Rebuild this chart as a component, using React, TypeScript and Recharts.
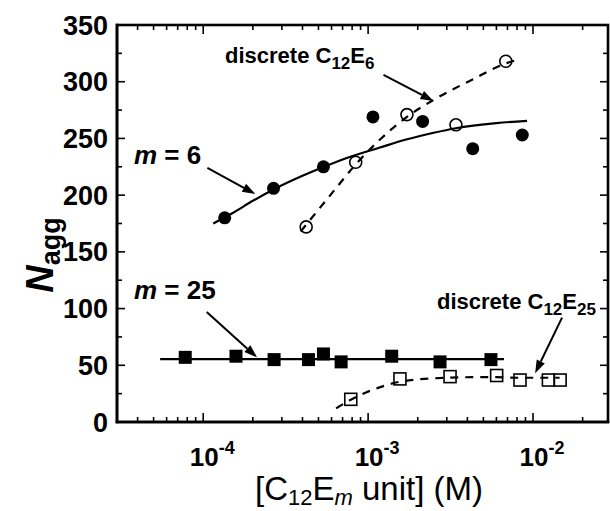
import React from 'react';
import { ComposedChart, XAxis, YAxis, Scatter, Line, ReferenceLine } from 'recharts';

// m = 6 (filled circles)
const m6Conc = [1.35e-4, 2.67e-4, 5.36e-4, 1.07e-3, 2.14e-3, 4.31e-3, 8.61e-3];
const m6Nagg = [180, 206, 225, 269, 265, 241, 253];
// discrete C12E6 (open circles)
const e6Conc = [4.21e-4, 8.41e-4, 1.72e-3, 3.41e-3, 6.84e-3];
const e6Nagg = [172, 229, 271, 262, 318];
// m = 25 (filled squares)
const m25Conc = [7.78e-5, 1.58e-4, 2.69e-4, 4.35e-4, 5.36e-4, 6.86e-4, 1.39e-3, 2.73e-3, 5.56e-3];
const m25Nagg = [57, 58, 55, 55, 60, 53, 58, 53, 55];
// discrete C12E25 (open squares)
const e25Conc = [7.85e-4, 1.56e-3, 3.14e-3, 6.02e-3, 8.34e-3, 1.24e-2, 1.46e-2];
const e25Nagg = [20, 38, 40, 41, 37, 37, 37];

// guide curves
const m6FitConc = [1.15e-4, 1.5e-4, 2e-4, 2.67e-4, 4e-4, 5.4e-4, 7.5e-4, 1.18e-3, 1.7e-3, 2.5e-3, 3.4e-3, 6e-3, 9.2e-3];
const m6FitNagg = [175, 184, 195, 205, 217, 225, 233, 242, 249, 255, 259, 263.5, 265.5];
const e6FitConc = [3.9e-4, 5.9e-4, 8.4e-4, 1.2e-3, 1.72e-3, 2.5e-3, 4.3e-3, 6.8e-3, 7.9e-3];
const e6FitNagg = [168, 200, 227, 250, 269, 284, 302, 316, 319];
const m25FitConc = [5.48e-5, 6.67e-3];
const m25FitNagg = [55.5, 55.5];
const e25FitConc = [6.4e-4, 7.7e-4, 9.7e-4, 1.2e-3, 1.56e-3, 2e-3, 3e-3, 4.5e-3, 6e-3, 8e-3, 1.05e-2, 1.45e-2];
const e25FitNagg = [12, 19, 26, 31, 35.5, 37.5, 39, 39.5, 39.5, 39, 39, 39];

// annotation arrows (data coords)
const arrows = [
  { x1: 1.06e-4, y1: 224, x2: 2.07e-4, y2: 201 },
  { x1: 1.24e-3, y1: 306, x2: 2.49e-3, y2: 283 },
  { x1: 1.05e-4, y1: 97, x2: 2.12e-4, y2: 57 },
  { x1: 1.5e-2, y1: 92, x2: 1.03e-2, y2: 43 },
];

const xDomain = [3e-5, 2.85e-2];
const yDomain = [0, 350];
const xTicks = [
  3e-5, 4e-5, 5e-5, 6e-5, 7e-5, 8e-5, 9e-5,
  1e-4, 2e-4, 3e-4, 4e-4, 5e-4, 6e-4, 7e-4, 8e-4, 9e-4,
  1e-3, 2e-3, 3e-3, 4e-3, 5e-3, 6e-3, 7e-3, 8e-3, 9e-3,
  1e-2, 2e-2,
];
const xMajor = [1e-4, 1e-3, 1e-2];
const xMajorLabels = ['-4', '-3', '-2'];
const yTicks = [0, 25, 50, 75, 100, 125, 150, 175, 200, 225, 250, 275, 300, 325, 350];

const zip = (xs: number[], ys: number[]) => xs.map((x, i) => ({ x, y: ys[i] }));

const PLOT_LEFT = 117;
const PLOT_TOP = 25;
const PLOT_RIGHT = 608;
const PLOT_BOTTOM = 422;
const FONT = '"Liberation Sans", Arial, Helvetica, sans-serif';

// same mapping as the chart's log / linear axes, used for the frame ticks
const lx0 = Math.log10(xDomain[0]);
const lx1 = Math.log10(xDomain[1]);
const px = (v: number) => PLOT_LEFT + ((Math.log10(v) - lx0) / (lx1 - lx0)) * (PLOT_RIGHT - PLOT_LEFT);
const py = (v: number) => PLOT_BOTTOM - ((v - yDomain[0]) / (yDomain[1] - yDomain[0])) * (PLOT_BOTTOM - PLOT_TOP);

const BottomTick = (props: any) => {
  const { x, payload } = props;
  const i = xMajor.indexOf(payload.value);
  if (i < 0) return <g />;
  return (
    <text x={x + 9} y={PLOT_BOTTOM + 44} textAnchor="middle" fontSize={26} fontWeight="bold" fontFamily={FONT} fill="#000">
      10<tspan dy={-12} fontSize={18}>{xMajorLabels[i]}</tspan>
    </text>
  );
};

const LeftTick = (props: any) => {
  const { y, payload } = props;
  const v = payload.value;
  if (v % 50 !== 0) return <g />;
  return (
    <text x={PLOT_LEFT - 9} y={y + 9.5} textAnchor="end" fontSize={27} fontWeight="bold" fontFamily={FONT} fill="#000">
      {v}
    </text>
  );
};

const Arrow = (props: any) => {
  const { x1, y1, x2, y2 } = props;
  const ang = Math.atan2(y2 - y1, x2 - x1);
  const len = 13;
  const w = 4.5;
  const bx = x2 - len * Math.cos(ang);
  const by = y2 - len * Math.sin(ang);
  const ox = -Math.sin(ang) * w;
  const oy = Math.cos(ang) * w;
  return (
    <g>
      <line x1={x1} y1={y1} x2={bx} y2={by} stroke="#000" strokeWidth={2} />
      <polygon points={`${x2},${y2} ${bx + ox},${by + oy} ${bx - ox},${by - oy}`} fill="#000" />
    </g>
  );
};

const FilledCircle = (p: any) => <circle cx={p.cx} cy={p.cy} r={6.5} fill="#000" />;
const OpenCircle = (p: any) => <circle cx={p.cx} cy={p.cy} r={6} fill="none" stroke="#000" strokeWidth={1.6} />;
const FilledSquare = (p: any) => <rect x={p.cx - 6.5} y={p.cy - 6.5} width={13} height={13} fill="#000" />;
const OpenSquare = (p: any) => (
  <rect x={p.cx - 6} y={p.cy - 6} width={12} height={12} fill="none" stroke="#000" strokeWidth={1.6} />
);

export default function App() {
  const axisStroke = { stroke: '#000', strokeWidth: 2.6, strokeLinecap: 'square' as const };
  return (
    <div style={{ position: 'absolute', left: 0, top: 0, width: 610, height: 511, background: '#fff', fontFamily: FONT }}>
      <ComposedChart width={610} height={511} margin={{ top: PLOT_TOP, right: 610 - PLOT_RIGHT, bottom: 0, left: 0 }}>
        <XAxis
          dataKey="x"
          type="number"
          scale="log"
          domain={xDomain}
          allowDataOverflow
          ticks={xTicks}
          interval={0}
          tick={<BottomTick />}
          tickLine={false}
          axisLine={axisStroke}
          height={511 - PLOT_BOTTOM}
        />
        <YAxis
          dataKey="y"
          type="number"
          domain={yDomain}
          allowDataOverflow
          ticks={yTicks}
          interval={0}
          tick={<LeftTick />}
          tickLine={false}
          axisLine={axisStroke}
          width={PLOT_LEFT}
        />

        <Line data={zip(m6FitConc, m6FitNagg)} dataKey="y" type="monotone" dot={false} stroke="#000" strokeWidth={2.2} isAnimationActive={false} />
        <Line data={zip(e6FitConc, e6FitNagg)} dataKey="y" type="monotone" dot={false} stroke="#000" strokeWidth={2.2} strokeDasharray="8 7" isAnimationActive={false} />
        <Line data={zip(m25FitConc, m25FitNagg)} dataKey="y" type="linear" dot={false} stroke="#000" strokeWidth={2.2} isAnimationActive={false} />
        <Line data={zip(e25FitConc, e25FitNagg)} dataKey="y" type="monotone" dot={false} stroke="#000" strokeWidth={2.2} strokeDasharray="8 7" isAnimationActive={false} />

        <Scatter data={zip(m6Conc, m6Nagg)} dataKey="y" shape={FilledCircle} isAnimationActive={false} />
        <Scatter data={zip(e6Conc, e6Nagg)} dataKey="y" shape={OpenCircle} isAnimationActive={false} />
        <Scatter data={zip(m25Conc, m25Nagg)} dataKey="y" shape={FilledSquare} isAnimationActive={false} />
        <Scatter data={zip(e25Conc, e25Nagg)} dataKey="y" shape={OpenSquare} isAnimationActive={false} />

        {arrows.map((a, i) => (
          <ReferenceLine
            key={i}
            segment={[{ x: a.x1, y: a.y1 }, { x: a.x2, y: a.y2 }]}
            shape={Arrow}
            ifOverflow="visible"
          />
        ))}
      </ComposedChart>

      <svg width={610} height={511} style={{ position: 'absolute', left: 0, top: 0, pointerEvents: 'none' }} fontFamily={FONT} fill="#000">
        {/* frame with inward ticks on all four sides */}
        <rect
          x={PLOT_LEFT}
          y={PLOT_TOP}
          width={PLOT_RIGHT - PLOT_LEFT}
          height={PLOT_BOTTOM - PLOT_TOP}
          fill="none"
          stroke="#000"
          strokeWidth={2.6}
        />
        {xTicks.map((t) => {
          const len = xMajor.includes(t) ? 9 : 5;
          const x = px(t);
          return (
            <g key={`x${t}`} stroke="#000" strokeWidth={1.6}>
              <line x1={x} x2={x} y1={PLOT_BOTTOM} y2={PLOT_BOTTOM - len} />
              <line x1={x} x2={x} y1={PLOT_TOP} y2={PLOT_TOP + len} />
            </g>
          );
        })}
        {yTicks.map((t) => {
          const len = t % 50 === 0 ? 8 : 5;
          const y = py(t);
          return (
            <g key={`y${t}`} stroke="#000" strokeWidth={1.6}>
              <line x1={PLOT_LEFT} x2={PLOT_LEFT + len} y1={y} y2={y} />
              <line x1={PLOT_RIGHT} x2={PLOT_RIGHT - len} y1={y} y2={y} />
            </g>
          );
        })}

        <text x={225} y={63} fontSize={22} fontWeight="bold">
          discrete C<tspan dy={6} fontSize={17}>12</tspan><tspan dy={-6}>E</tspan><tspan dy={6} fontSize={17}>6</tspan>
        </text>
        <text x={134} y={164} fontSize={26} fontWeight="bold">
          <tspan fontStyle="italic">m</tspan> = 6
        </text>
        <text x={134} y={299} fontSize={26} fontWeight="bold">
          <tspan fontStyle="italic">m</tspan> = 25
        </text>
        <text x={437} y={309} fontSize={22} fontWeight="bold">
          discrete C<tspan dy={6} fontSize={17}>12</tspan><tspan dy={-6}>E</tspan><tspan dy={6} fontSize={17}>25</tspan>
        </text>
        <text x={0} y={0} fontSize={38} fontWeight="bold" transform="translate(53 255) rotate(-90)" textAnchor="middle">
          <tspan fontStyle="italic">N</tspan><tspan dy={7} fontSize={27}>agg</tspan>
        </text>
        <text x={369} y={500} fontSize={33} textAnchor="middle">
          [C<tspan dy={5} fontSize={22}>12</tspan><tspan dy={-5}>E</tspan><tspan dy={5} fontSize={22} fontStyle="italic">m</tspan><tspan dy={-5}> unit] (M)</tspan>
        </text>
      </svg>
    </div>
  );
}
